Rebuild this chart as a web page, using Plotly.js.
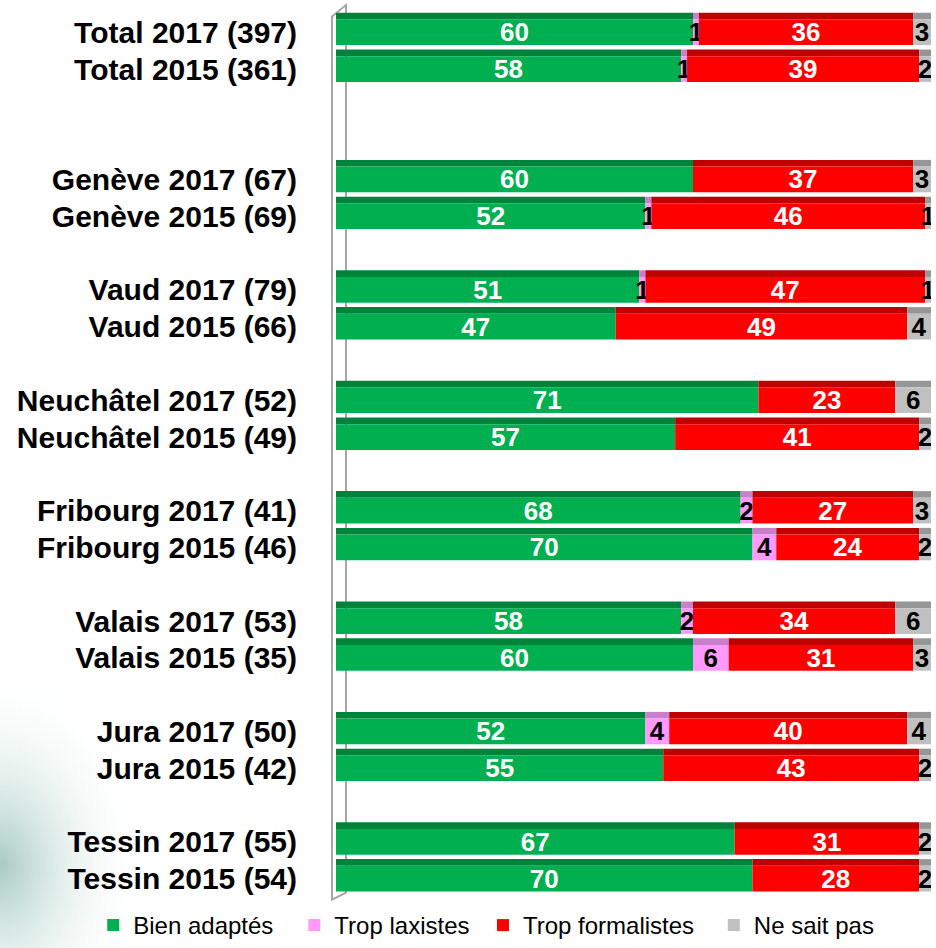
<!DOCTYPE html>
<html>
<head>
<meta charset="utf-8">
<script src="https://cdn.plot.ly/plotly-3.0.1.min.js"></script>
<style>
  html, body { margin: 0; padding: 0; background: #fff; }
  #chart { width: 936px; height: 948px; }
</style>
</head>
<body>
<div id="chart"></div>
<script>
// rows, top to bottom
var labels = [
  "Total 2017 (397)", "Total 2015 (361)",
  "Genève 2017 (67)", "Genève 2015 (69)",
  "Vaud 2017 (79)", "Vaud 2015 (66)",
  "Neuchâtel 2017 (52)", "Neuchâtel 2015 (49)",
  "Fribourg 2017 (41)", "Fribourg 2015 (46)",
  "Valais 2017 (53)", "Valais 2015 (35)",
  "Jura 2017 (50)", "Jura 2015 (42)",
  "Tessin 2017 (55)", "Tessin 2015 (54)"
];
var bien        = [60, 58, 60, 52, 51, 47, 71, 57, 68, 70, 58, 60, 52, 55, 67, 70];
var laxistes    = [ 1,  1,  0,  1,  1,  0,  0,  0,  2,  4,  2,  6,  4,  0,  0,  0];
var formalistes = [36, 39, 37, 46, 47, 49, 23, 41, 27, 24, 34, 31, 40, 43, 31, 28];
var nsp         = [ 3,  2,  3,  1,  1,  4,  6,  2,  3,  2,  6,  3,  4,  2,  2,  2];

var seriesNames = ["Bien adaptés", "Trop laxistes", "Trop formalistes", "Ne sait pas"];
var seriesVals = [bien, laxistes, formalistes, nsp];
var faceColors = ["#00B050", "#FF99FF", "#FF0000", "#C0C0C0"];
var topColors  = ["#00843C", "#C97FC9", "#C00000", "#969696"];
var textColors = ["#FFFFFF", "#000000", "#FFFFFF", "#000000"];

// slot positions: pairs per canton, one blank slot between cantons, two after Total
var pos = labels.map(function (l, i) {
  var g = Math.floor(i / 2);
  return g * 3 + (i % 2) + (g > 0 ? 1 : 0);
});

var font = "'Liberation Sans', Arial, sans-serif";
var legendIds = ["legend", "legend2", "legend3", "legend4"];
var legendX = [-0.408, -0.07, 0.247, 0.635];

var traces = [];
var bases = labels.map(function () { return 0; });
seriesVals.forEach(function (vals, s) {
  var b = bases.slice();
  // darker top edge (3D look)
  traces.push({
    type: "bar", orientation: "h",
    y: pos, x: vals, base: b,
    width: 0.18, offset: -0.53,
    marker: { color: topColors[s], line: { width: 0 } },
    showlegend: false, hoverinfo: "skip"
  });
  traces.push({
    type: "bar", orientation: "h",
    name: seriesNames[s],
    legend: legendIds[s],
    y: pos, x: vals, base: b,
    width: 0.7, offset: -0.35,
    marker: { color: faceColors[s], line: { width: 0 } },
    text: vals.map(function (v) { return v > 0 ? String(v) : ""; }),
    textposition: "inside",
    insidetextanchor: "middle",
    constraintext: "none",
    textangle: 0,
    textfont: { family: font, size: 26, color: textColors[s], weight: "bold" },
    hoverinfo: "skip"
  });
  bases = bases.map(function (v, i) { return v + vals[i]; });
});

// soft teal glow in the lower-left corner of the slide background
function cornerGlow() {
  var c = document.createElement("canvas");
  c.width = 200; c.height = 300;
  var g = c.getContext("2d");
  var grd = g.createRadialGradient(0, 220, 0, 0, 220, 190);
  grd.addColorStop(0, "rgba(110,165,155,0.6)");
  grd.addColorStop(0.45, "rgba(170,205,195,0.3)");
  grd.addColorStop(1, "rgba(255,255,255,0)");
  g.fillStyle = grd;
  g.fillRect(0, 0, 200, 300);
  return c.toDataURL();
}

var layout = {
  width: 936, height: 948,
  margin: { l: 336, r: 5, t: 12, b: 51 },
  barmode: "overlay",
  paper_bgcolor: "#FFFFFF",
  plot_bgcolor: "rgba(0,0,0,0)",
  showlegend: true,
  images: [{
    source: cornerGlow(), xref: "paper", yref: "paper",
    x: -0.565, y: 0.30, sizex: 0.26, sizey: 0.36,
    xanchor: "left", yanchor: "top", sizing: "stretch", layer: "below"
  }],
  xaxis: {
    range: [0, 100],
    showgrid: false, zeroline: false, showticklabels: false, showline: false, ticks: ""
  },
  yaxis: {
    range: [23.5, -0.55],
    tickvals: pos, ticktext: labels,
    tickfont: { family: font, size: 30, color: "#000", weight: "bold" },
    ticks: "", ticklabelstandoff: 38,
    showgrid: false, zeroline: false, showline: false
  },
  shapes: [{
    type: "path", xref: "paper", yref: "paper", layer: "below",
    path: "M -0.0067 -0.003 L -0.0067 0.995 L 0.0168 1.0079 L 0.0168 0.005 Z",
    line: { color: "#A6A6A6", width: 2 }, fillcolor: "rgba(0,0,0,0)"
  }]
};

legendIds.forEach(function (id, s) {
  layout[id] = {
    orientation: "h",
    x: legendX[s], xanchor: "left",
    yref: "container", y: -0.006, yanchor: "bottom",
    bgcolor: "rgba(0,0,0,0)",
    font: { family: font, size: 24, color: "#000" },
    itemwidth: 30
  };
});

Plotly.newPlot("chart", traces, layout, { displayModeBar: false, staticPlot: true });
</script>
</body>
</html>
